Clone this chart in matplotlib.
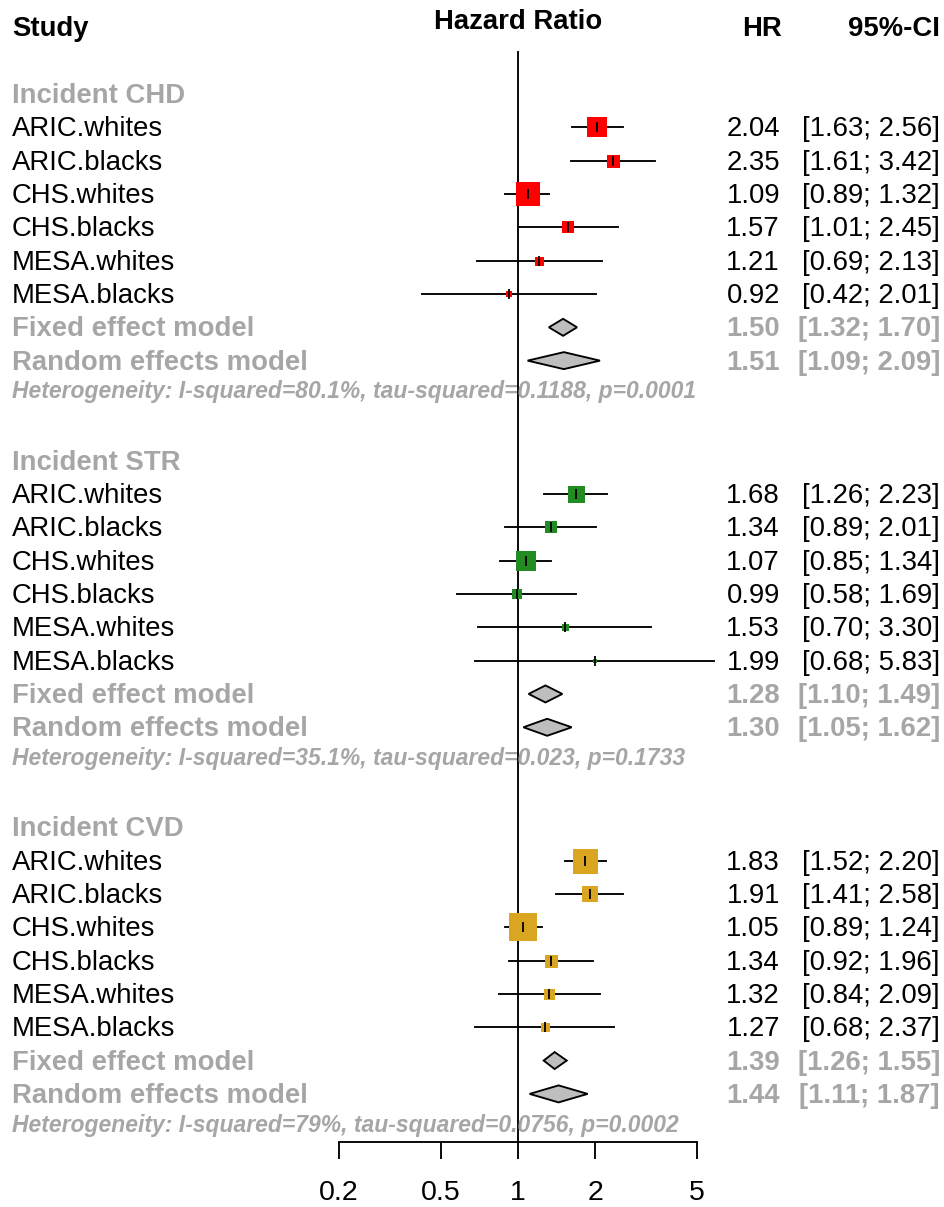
import matplotlib.pyplot as plt
from matplotlib.patches import Polygon
from matplotlib.ticker import NullLocator
from matplotlib.transforms import blended_transform_factory

plt.rcParams['font.family'] = ['Liberation Sans', 'DejaVu Sans']

# Data
studies = ['ARIC.whites', 'ARIC.blacks', 'CHS.whites', 'CHS.blacks', 'MESA.whites', 'MESA.blacks']
groups = ['Incident CHD', 'Incident STR', 'Incident CVD']
colors = ['#ff0000', '#228b22', '#daa520']

chd_hr = [2.04, 2.35, 1.09, 1.57, 1.21, 0.92]
chd_lo = [1.63, 1.61, 0.89, 1.01, 0.69, 0.42]
chd_hi = [2.56, 3.42, 1.32, 2.45, 2.13, 2.01]
chd_weight = [20, 13, 24, 12, 9, 6]
chd_fixed = [1.50, 1.32, 1.70]
chd_random = [1.51, 1.09, 2.09]
chd_het = 'Heterogeneity: I-squared=80.1%, tau-squared=0.1188, p=0.0001'

str_hr = [1.68, 1.34, 1.07, 0.99, 1.53, 1.99]
str_lo = [1.26, 0.89, 0.85, 0.58, 0.70, 0.68]
str_hi = [2.23, 2.01, 1.34, 1.69, 3.30, 5.83]
str_weight = [17, 12, 20, 10, 7, 4]
str_fixed = [1.28, 1.10, 1.49]
str_random = [1.30, 1.05, 1.62]
str_het = 'Heterogeneity: I-squared=35.1%, tau-squared=0.023, p=0.1733'

cvd_hr = [1.83, 1.91, 1.05, 1.34, 1.32, 1.27]
cvd_lo = [1.52, 1.41, 0.89, 0.92, 0.84, 0.68]
cvd_hi = [2.20, 2.58, 1.24, 1.96, 2.09, 2.37]
cvd_weight = [25, 16, 28, 13, 11, 9]
cvd_fixed = [1.39, 1.26, 1.55]
cvd_random = [1.44, 1.11, 1.87]
cvd_het = 'Heterogeneity: I-squared=79%, tau-squared=0.0756, p=0.0002'

ticks = [0.2, 0.5, 1, 2, 5]
tick_labels = ['0.2', '0.5', '1', '2', '5']

GRAY = '#a6a6a6'
FS = 19.8
LW = 1.35
W, H = 945, 1207
ROW = 33.33      # pixels per row
TOP = 94         # pixel y of first group title
AXIS_Y = 1142    # pixel y of the x axis
TXT_DY = 0.06    # nudge text down so it sits level with the marks

fig = plt.figure(figsize=(W / 100, H / 100), dpi=100)
ax = fig.add_axes([339 / W, (H - AXIS_Y) / H, 358 / W, AXIS_Y / H])
ax.set_xscale('log')
ax.set_xlim(0.2, 5)
ax.set_ylim((AXIS_Y - TOP) / ROW, -TOP / ROW)
for side in ['top', 'left', 'right']:
    ax.spines[side].set_visible(False)
ax.spines['bottom'].set_linewidth(LW)
ax.set_yticks([])
ax.set_xticks(ticks)
ax.set_xticklabels(tick_labels)
ax.xaxis.set_minor_locator(NullLocator())
ax.tick_params(axis='x', length=12.2, width=LW, pad=15, labelsize=20.5)

# text columns: x in figure pixels, y in row units
tr = blended_transform_factory(fig.transFigure, ax.transData)


def put(px, row, s, ha='left', **kw):
    kw.setdefault('fontsize', FS)
    ax.text(px / W, row + TXT_DY, s, transform=tr, ha=ha, va='center', clip_on=False, **kw)


def ci_text(est, lo, hi):
    return f'{est:.2f}', f'[{lo:.2f}; {hi:.2f}]'


# header
put(12, -2, 'Study', fontweight='bold')
put(518, -2.22, 'Hazard Ratio', ha='center', fontweight='bold')
put(782, -2, 'HR', ha='right', fontweight='bold')
put(940, -2, '95%-CI', ha='right', fontweight='bold')

# reference line at HR = 1
ax.plot([1, 1], [(52 - TOP) / ROW, (AXIS_Y - TOP) / ROW], color='black', lw=LW, clip_on=False)

blocks = [
    (chd_hr, chd_lo, chd_hi, chd_weight, chd_fixed, chd_random, chd_het),
    (str_hr, str_lo, str_hi, str_weight, str_fixed, str_random, str_het),
    (cvd_hr, cvd_lo, cvd_hi, cvd_weight, cvd_fixed, cvd_random, cvd_het),
]

for g, (hr, lo, hi, wt, fixed, rand, het) in enumerate(blocks):
    base = g * 11
    put(12, base, groups[g], color=GRAY, fontweight='bold')
    for i, name in enumerate(studies):
        y = base + 1 + i
        put(12, y, name)
        est, ci = ci_text(hr[i], lo[i], hi[i])
        put(780, y, est, ha='right')
        put(940, y, ci, ha='right')
        ax.plot([lo[i], hi[i]], [y, y], color='black', lw=LW, clip_on=False, zorder=2)
        ax.plot(hr[i], y, marker='s', ms=wt[i] * 0.72, mew=0, color=colors[g],
                clip_on=False, zorder=3)
        ax.plot(hr[i], y, marker='|', ms=7, mew=1.3, color='black', clip_on=False, zorder=4)

    # pooled estimates as diamonds
    for j, (label, m) in enumerate([('Fixed effect model', fixed), ('Random effects model', rand)]):
        y = base + 7 + j
        h = 8.5 / ROW
        ax.add_patch(Polygon([(m[1], y), (m[0], y - h), (m[2], y), (m[0], y + h)],
                             closed=True, facecolor='#bebebe', edgecolor='black',
                             lw=LW, clip_on=False, zorder=3))
        put(12, y, label, color=GRAY, fontweight='bold')
        est, ci = ci_text(*m)
        put(780, y, est, ha='right', color=GRAY, fontweight='bold')
        put(940, y, ci, ha='right', color=GRAY, fontweight='bold')

    put(12, base + 8.88, het, color=GRAY, fontweight='bold', fontstyle='italic', fontsize=16.5)

fig.savefig('out.png', dpi=100)
